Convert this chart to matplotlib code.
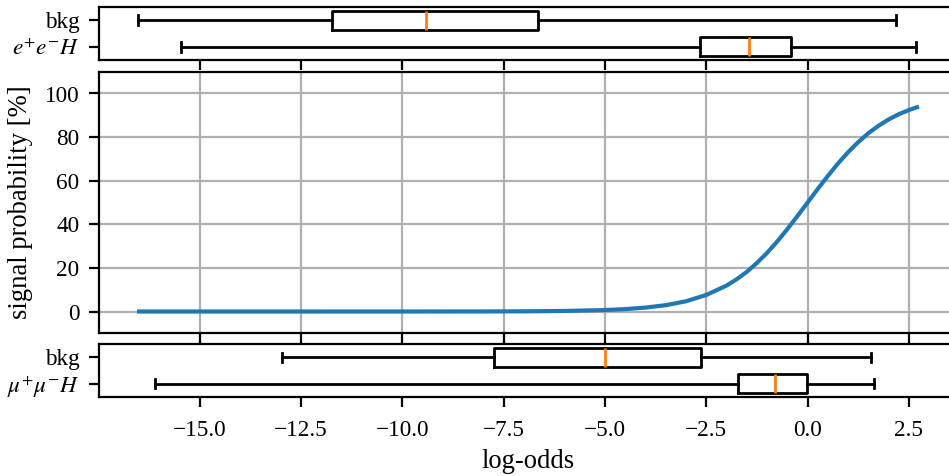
import matplotlib
matplotlib.use("Agg")
import matplotlib.pyplot as plt

plt.rcParams['font.family'] = ['Liberation Serif', 'DejaVu Serif']
plt.rcParams['mathtext.fontset'] = 'stix'

# Curve: signal probability [%] vs log-odds
curve_x = [-16.5, -12.0, -10.0, -8.0, -7.0, -6.0, -5.0, -4.5, -4.0, -3.5, -3.0, -2.5, -2.0,
           -1.75, -1.5, -1.25, -1.0, -0.75, -0.5, -0.25, 0.0, 0.25, 0.5, 0.75, 1.0,
           1.25, 1.5, 1.75, 2.0, 2.25, 2.5, 2.7]
curve_y = [0.0, 0.0, 0.005, 0.03, 0.09, 0.25, 0.67, 1.1, 1.8, 2.9, 4.7, 7.6, 11.9,
           14.8, 18.2, 22.3, 26.9, 32.1, 37.8, 43.8, 50.0, 56.2, 62.2, 67.9, 73.1,
           77.7, 81.8, 85.2, 88.1, 90.5, 92.4, 93.7]

# Box statistics (whislo, q1, median, q3, whishi)
top_labels = ["bkg", r"$e^{+}e^{-}H$"]
top_stats = [
    [-16.53, -11.74, -9.42, -6.66, 2.17],
    [-15.47, -2.65, -1.44, -0.40, 2.67],
]
bot_labels = ["bkg", r"$\mu^{+}\mu^{-}H$"]
bot_stats = [
    [-12.98, -7.75, -5.01, -2.64, 1.57],
    [-16.11, -1.73, -0.81, -0.01, 1.64],
]

yticks_mid = [0, 20, 40, 60, 80, 100]
xticks = [-15.0, -12.5, -10.0, -7.5, -5.0, -2.5, 0.0, 2.5]

W, H = 949, 476
fig = plt.figure(figsize=(W / 200, H / 200), dpi=200)

def rect(x0, y0, x1, y1):
    return [x0 / W, 1 - y1 / H, (x1 - x0) / W, (y1 - y0) / H]

ax_top = fig.add_axes(rect(99, 7, 956.3, 60))
ax_mid = fig.add_axes(rect(99, 71.7, 956.3, 333.3))
ax_bot = fig.add_axes(rect(99, 344.3, 956.3, 396.7))

xlim = (-17.49, 3.67)
TICK_FS = 8.4
LABEL_FS = 9.6

def draw_boxes(ax, stats, labels):
    bx = []
    for s, lab in zip(stats, labels):
        bx.append(dict(whislo=s[0], q1=s[1], med=s[2], q3=s[3], whishi=s[4],
                       fliers=[], label=lab))
    # bkg on top
    ax.bxp(bx[::-1], positions=[1, 2], vert=False, widths=0.72,
           showfliers=False,
           medianprops=dict(color='C1'))
    ax.set_yticks([1, 2])
    ax.set_yticklabels(labels[::-1], fontsize=TICK_FS)
    ax.set_ylim(0.5, 2.5)
    ax.set_xlim(*xlim)
    ax.set_xticks(xticks)

draw_boxes(ax_top, top_stats, top_labels)
ax_top.tick_params(axis='x', labelbottom=False)

ax_mid.plot(curve_x, curve_y, color='C0', lw=1.5)
ax_mid.set_xlim(*xlim)
ax_mid.set_ylim(-10, 110)
ax_mid.set_yticks(yticks_mid)
ax_mid.set_xticks(xticks)
ax_mid.tick_params(axis='x', labelbottom=False)
ax_mid.tick_params(axis='y', labelsize=TICK_FS)
ax_mid.grid(True)
ax_mid.set_axisbelow(True)
ax_mid.set_ylabel("signal probability [%]", fontsize=LABEL_FS)

draw_boxes(ax_bot, bot_stats, bot_labels)
ax_bot.set_xticklabels([f"{t:.1f}".replace('-', '\u2212') for t in xticks], fontsize=TICK_FS)
ax_bot.tick_params(axis='x', pad=5.0)
ax_bot.set_xlabel("log-odds", fontsize=LABEL_FS)

ax_mid.yaxis.set_label_coords(-0.077, 0.5)
ax_bot.xaxis.set_label_coords(0.5, -0.99)

fig.savefig("out.png", dpi=200)
